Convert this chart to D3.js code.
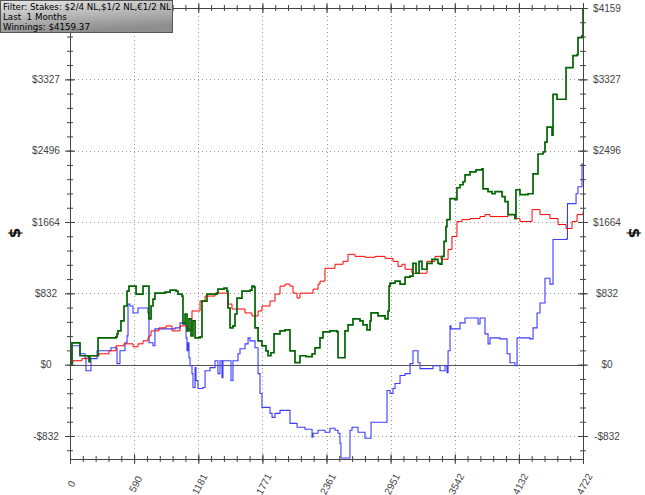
<!DOCTYPE html>
<html>
<head>
<meta charset="utf-8">
<script src="https://cdn.jsdelivr.net/npm/d3@7"></script>
<style>
  html, body { margin: 0; padding: 0; background: #ffffff; }
  svg { display: block; }
</style>
</head>
<body>
<svg id="chart" width="645" height="495"></svg>
<script>
// ---------- DATA (hands played, dollars won) ----------
const xTickValues = [0, 590, 1181, 1771, 2361, 2951, 3542, 4132, 4722];
const xTickLabels = ["0", "590", "1181", "1771", "2361", "2951", "3542", "4132", "4722"];
const yTickValues = [-832, 0, 832, 1664, 2496, 3327, 4159];
const yTickLabels = ["-$832", "$0", "$832", "$1664", "$2496", "$3327", "$4159"];
const legendLines = ["Filter: Stakes: $2/4 NL,$1/2 NL,\u20AC1/2 NL", "Last  1 Months", "Winnings: $4159.37"];
const axisTitle = "$";

// total winnings (green)
const greenSeries = [
  [0,0],[18,255],[83,255],[92,104],[166,93],[175,35],[184,104],[249,104],[258,313],[423,325],
  [433,359],[442,394],[469,510],[497,684],[525,858],[543,916],[589,916],[608,823],[654,823],[672,916],
  [718,916],[727,533],[746,684],[764,765],[782,834],[874,846],[921,869],[976,858],[994,823],[1031,800],
  [1040,475],[1059,591],[1077,394],[1095,533],[1114,336],[1132,510],[1151,313],[1197,325],[1215,742],[1261,823],
  [1353,834],[1362,881],[1418,892],[1445,858],[1454,661],[1473,429],[1500,452],[1519,591],[1537,777],[1583,858],
  [1657,869],[1675,916],[1694,904],[1703,429],[1731,278],[1767,220],[1804,162],[1823,104],[1850,139],[1878,359],
  [1933,394],[1979,406],[2025,162],[2071,23],[2117,104],[2172,93],[2228,127],[2255,197],[2301,313],[2329,382],
  [2393,394],[2458,382],[2467,81],[2522,81],[2531,394],[2559,464],[2605,533],[2669,510],[2697,464],[2734,406],
  [2762,510],[2771,603],[2835,568],[2900,533],[2927,626],[2937,916],[2946,950],[2992,974],[3038,939],[3084,1020],
  [3130,1032],[3157,1182],[3185,1066],[3213,1205],[3240,1113],[3286,1182],[3332,1229],[3387,1182],[3406,1171],[3424,1263],
  [3443,1437],[3461,1611],[3470,1692],[3498,1936],[3544,1924],[3562,2063],[3590,2098],[3618,2133],[3636,2214],[3682,2248],
  [3737,2272],[3792,2283],[3802,2051],[3848,2017],[3885,1993],[3912,2017],[3977,1959],[4004,1901],[4032,1750],[4096,1704],
  [4105,2040],[4142,1982],[4216,1993],[4262,2225],[4299,2225],[4308,2457],[4354,2480],[4372,2596],[4391,2770],[4437,2677],
  [4446,3152],[4483,3095],[4556,3095],[4566,3465],[4603,3465],[4630,3604],[4667,3616],[4676,3813],[4713,3836],[4722,4159]
];

// showdown winnings (blue)
const blueSeries = [
  [0,0],[18,220],[83,220],[92,127],[138,81],[147,-70],[184,-70],[193,70],[239,70],[249,162],
  [368,162],[377,197],[423,197],[433,12],[451,12],[460,162],[506,255],[525,336],[534,707],[552,684],
  [580,603],[626,661],[718,603],[727,255],[764,220],[782,417],[967,429],[1013,487],[1059,475],[1068,313],
  [1077,162],[1086,255],[1095,81],[1105,-12],[1123,-104],[1132,-267],[1151,-35],[1160,-185],[1178,-278],[1224,-267],
  [1243,-70],[1289,-35],[1335,46],[1362,-104],[1381,46],[1399,-151],[1408,46],[1482,-185],[1500,46],[1546,127],
  [1565,185],[1611,243],[1639,313],[1657,278],[1703,197],[1731,-104],[1749,-336],[1767,-498],[1841,-568],[1860,-614],
  [1887,-568],[1933,-533],[2025,-684],[2090,-730],[2163,-753],[2228,-846],[2237,-800],[2283,-765],[2347,-788],[2393,-742],
  [2439,-765],[2467,-800],[2485,-916],[2494,-1089],[2559,-1089],[2577,-765],[2596,-730],[2651,-788],[2715,-858],[2771,-672],
  [2900,-672],[2918,-301],[2946,-336],[2973,-278],[2992,-220],[3038,-127],[3084,-104],[3130,12],[3157,162],[3203,23],
  [3222,-46],[3341,-12],[3406,-70],[3452,-12],[3470,-93],[3480,162],[3498,452],[3507,417],[3590,487],[3636,545],
  [3756,475],[3774,545],[3820,359],[3848,243],[3866,313],[3958,301],[4023,127],[4050,23],[4096,-12],[4115,313],
  [4234,301],[4262,429],[4299,603],[4326,719],[4372,1008],[4418,939],[4446,1460],[4575,1472],[4579,1878],[4658,1993],
  [4676,2075],[4713,2341],[4722,2341]
];

// non-showdown winnings (red)
const redSeries = [
  [0,23],[28,46],[83,46],[110,70],[175,104],[267,127],[359,162],[423,220],[497,243],[580,209],
  [626,243],[672,278],[718,313],[727,336],[746,394],[819,429],[884,452],[939,394],[1013,452],[1077,417],
  [1105,394],[1123,626],[1197,742],[1243,800],[1335,834],[1427,834],[1454,707],[1491,649],[1565,649],[1611,603],
  [1675,568],[1703,568],[1731,626],[1767,684],[1841,742],[1887,823],[1933,916],[1979,939],[2025,916],[2053,834],
  [2090,777],[2117,834],[2209,834],[2237,881],[2283,939],[2301,974],[2347,1124],[2439,1171],[2513,1205],[2559,1287],
  [2624,1263],[2715,1252],[2808,1263],[2900,1240],[2973,1205],[3019,1147],[3056,1171],[3084,1113],[3148,1066],[3222,1066],
  [3286,1205],[3360,1263],[3415,1229],[3480,1344],[3516,1495],[3562,1669],[3608,1692],[3682,1704],[3774,1727],[3820,1750],
  [3866,1727],[3958,1727],[4032,1750],[4096,1704],[4142,1669],[4197,1669],[4253,1808],[4326,1750],[4382,1750],[4418,1704],
  [4492,1634],[4566,1588],[4621,1669],[4667,1750],[4722,1785]
];

// ---------- CHART ----------
const svg = d3.select("#chart");
const W = 645, H = 495;
const L = 70, R = 583, T = 8, B = 459;

svg.append("rect").attr("width", W).attr("height", H).attr("fill", "#ffffff");

const x = d3.scaleLinear().domain([0, 4722]).range([L, R]);
const y = d3.scaleLinear().domain([-1100, 4159.37]).range([B, T]);

const xMinor = d3.range(0, 41).map(i => 4722 * i / 40);
const yMinor = d3.range(-6, 26).map(i => 4159.37 * i / 25).filter(v => v >= -1100);

// grid
const grid = svg.append("g");
grid.selectAll("line.vg").data(xTickValues.slice(1, -1)).join("line")
  .attr("x1", d => Math.round(x(d)) + 0.5).attr("x2", d => Math.round(x(d)) + 0.5)
  .attr("y1", T).attr("y2", B)
  .attr("stroke", "#9a9a9a").attr("stroke-width", 1).attr("stroke-dasharray", "1,3");
grid.selectAll("line.hg").data(yTickValues.filter(v => v !== 0 && v !== 4159)).join("line")
  .attr("x1", L).attr("x2", R)
  .attr("y1", d => Math.round(y(d)) + 0.5).attr("y2", d => Math.round(y(d)) + 0.5)
  .attr("stroke", "#9a9a9a").attr("stroke-width", 1).attr("stroke-dasharray", "1,3");
// zero line
svg.append("line")
  .attr("x1", L).attr("x2", R)
  .attr("y1", Math.round(y(0)) + 0.5).attr("y2", Math.round(y(0)) + 0.5)
  .attr("stroke", "#555").attr("stroke-width", 1);

// series
const line = d3.line().x(d => x(d[0])).y(d => y(d[1])).curve(d3.curveStepAfter);
svg.append("path").datum(blueSeries).attr("d", line)
  .attr("fill", "none").attr("stroke", "#3c3cff").attr("stroke-width", 1.1);
svg.append("path").datum(redSeries).attr("d", line)
  .attr("fill", "none").attr("stroke", "#ff0000").attr("stroke-width", 1);
svg.append("path").datum(greenSeries).attr("d", line)
  .attr("fill", "none").attr("stroke", "#006400").attr("stroke-width", 1.7);

// axes
const axisColor = "#444";
function addAxis(kind, pos, values, labels, isMajor) {
  let ax;
  if (kind === "bottom") ax = d3.axisBottom(x);
  else if (kind === "top") ax = d3.axisTop(x);
  else if (kind === "left") ax = d3.axisLeft(y);
  else ax = d3.axisRight(y);
  ax.tickValues(values).tickSizeOuter(0).tickSize(0)
    .tickFormat((d, i) => labels ? labels[i] : "");
  const g = svg.append("g");
  if (kind === "bottom" || kind === "top") g.attr("transform", `translate(0,${pos})`);
  else g.attr("transform", `translate(${pos},0)`);
  g.call(ax);
  g.select(".domain").attr("stroke", axisColor);
  const a = isMajor ? 5 : 3;
  const lines = g.selectAll(".tick line").attr("stroke", axisColor);
  if (kind === "bottom" || kind === "top") lines.attr("y1", -a).attr("y2", a);
  else lines.attr("x1", -a).attr("x2", a);
  g.selectAll(".tick text").attr("fill", "#444")
    .style("font-family", "'Liberation Sans', Arial, sans-serif").style("font-size", "10px");
  return g;
}

addAxis("bottom", B, xMinor, null, false);
addAxis("top", T, xMinor, null, false);
addAxis("left", L, yMinor, null, false);
addAxis("right", R, yMinor, null, false);
addAxis("top", T, xTickValues, null, true);

const gx = addAxis("bottom", B, xTickValues, xTickLabels, true);
gx.selectAll(".tick text")
  .attr("y", 0).attr("dy", "0.35em")
  .attr("transform", "translate(1,25) rotate(-62)")
  .style("text-anchor", "middle");

// left axis: top label sits under the legend box in the original, so it is not shown
const gl = addAxis("left", L, yTickValues, yTickLabels.map((t, i) => yTickValues[i] === 4159 ? "" : t), true);
gl.selectAll(".tick text").attr("x", -24).attr("dy", "0.33em").style("text-anchor", "middle");

const gr = addAxis("right", R, yTickValues, yTickLabels, true);
gr.selectAll(".tick text").attr("x", 24).attr("dy", "0.33em").style("text-anchor", "middle");

// axis titles
svg.append("text").text(axisTitle)
  .attr("transform", "translate(15,233) rotate(-90)")
  .attr("text-anchor", "middle").attr("dy", "0.35em")
  .style("font-family", "'DejaVu Sans', sans-serif").style("font-size", "15px").style("font-weight", "bold")
  .attr("fill", "#111");
svg.append("text").text(axisTitle)
  .attr("transform", "translate(634,233) rotate(90)")
  .attr("text-anchor", "middle").attr("dy", "0.35em")
  .style("font-family", "'DejaVu Sans', sans-serif").style("font-size", "15px").style("font-weight", "bold")
  .attr("fill", "#111");

// legend box
const defs = svg.append("defs");
const grad = defs.append("linearGradient").attr("id", "lg")
  .attr("x1", "0").attr("y1", "0").attr("x2", "0.35").attr("y2", "1");
grad.append("stop").attr("offset", "0").attr("stop-color", "#e6e6e6");
grad.append("stop").attr("offset", "1").attr("stop-color", "#8e8e8e");
svg.append("rect").attr("x", 0.5).attr("y", 0.5).attr("width", 172).attr("height", 32)
  .attr("fill", "url(#lg)").attr("stroke", "#555");
svg.append("g").selectAll("text").data(legendLines).join("text")
  .attr("x", 3).attr("y", (d, i) => 9.5 + i * 10)
  .style("white-space", "pre")
  .attr("xml:space", "preserve")
  .style("font-family", "'DejaVu Sans', Verdana, sans-serif").style("font-size", "8.7px")
  .attr("fill", "#000")
  .text(d => d);
</script>
</body>
</html>
